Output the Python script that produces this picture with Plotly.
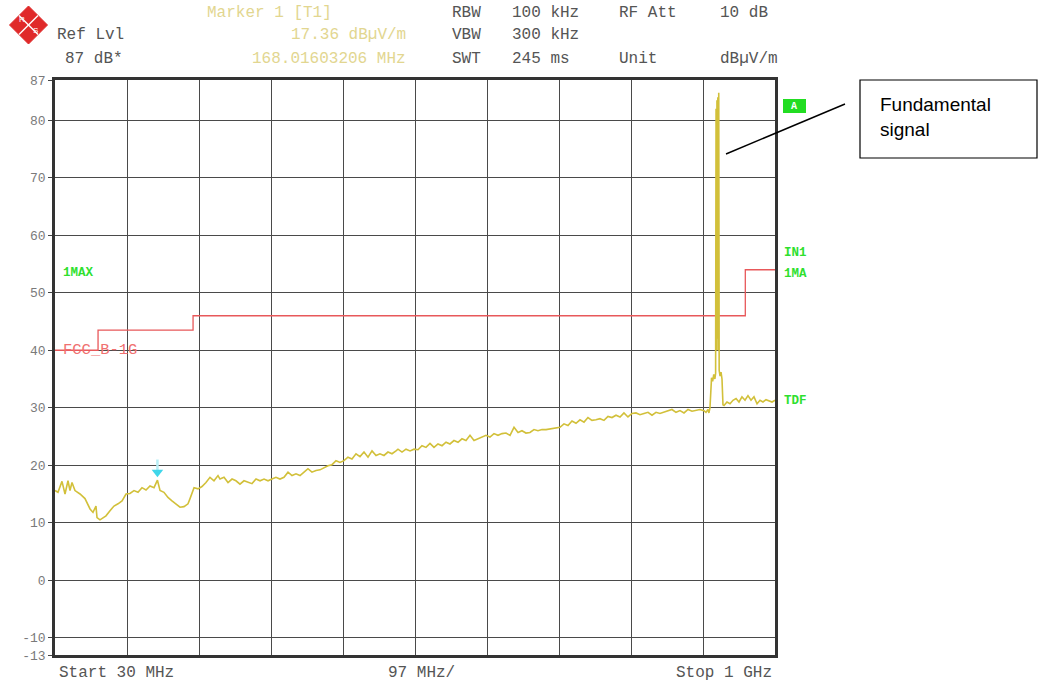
import plotly.graph_objects as go

# ---------------- data ----------------
# measured trace, (frequency MHz, level dBuV/m)
trace_low = [(30.0, 15.6), (34.0, 15.3), (39.4, 17.2), (43.5, 15.0), (47.5, 17.3), (50.2, 15.6),
             (52.9, 17.0), (56.9, 15.6), (63.7, 15.0), (70.4, 14.2), (77.2, 12.4), (81.2, 11.8),
             (85.2, 12.9), (86.6, 10.9), (90.6, 10.5), (94.7, 10.9), (98.7, 11.2), (104.1, 12.1),
             (109.5, 12.9), (114.9, 13.3), (120.3, 13.8), (125.7, 15.0), (131.0, 15.1), (136.4, 15.6),
             (141.8, 15.3), (147.2, 16.1), (152.6, 15.7), (158.0, 16.4), (163.4, 16.1), (168.0, 17.4),
             (171.5, 15.6), (176.8, 15.3), (182.2, 14.4), (187.6, 13.8), (193.0, 13.3), (198.4, 12.7),
             (203.8, 12.8), (209.2, 13.3), (211.9, 14.2), (214.6, 15.0), (217.3, 16.1), (222.7, 15.9),
             (228.0, 16.3), (233.4, 17.0), (238.8, 17.9), (244.2, 17.3), (249.6, 18.2)]
trace_mid = [(252.3, 17.6), (257.7, 17.9), (263.1, 17.0), (268.5, 17.6), (273.8, 17.3), (279.2, 16.7),
             (284.6, 17.3), (290.0, 17.0), (295.4, 16.8), (300.8, 17.6), (306.2, 17.3), (311.6, 17.6),
             (317.0, 17.3), (322.3, 17.6), (327.7, 17.9), (333.1, 17.6), (338.5, 17.9), (343.9, 18.8),
             (349.3, 18.2), (354.7, 18.5), (360.1, 18.2), (365.5, 18.8), (370.8, 19.4), (376.2, 18.8),
             (381.6, 19.1), (387.0, 19.2), (392.4, 19.6), (397.8, 19.9), (403.2, 20.1), (408.6, 20.8),
             (414.0, 20.5), (419.3, 20.8), (424.7, 21.4), (430.1, 21.1), (435.5, 22.0), (440.9, 21.5),
             (446.3, 22.3), (451.7, 21.4), (457.1, 22.5), (462.5, 21.7), (467.8, 22.0), (473.2, 21.7),
             (478.6, 22.3), (484.0, 22.0), (489.4, 22.5), (492.1, 22.8)]
trace_high = [(497.5, 22.3), (502.9, 22.8), (508.3, 22.5), (513.7, 22.8), (519.0, 22.7), (524.4, 23.4),
              (529.8, 23.1), (535.2, 23.8), (540.6, 23.1), (546.0, 23.7), (551.4, 23.4), (556.8, 24.0),
              (562.1, 23.7), (567.5, 24.3), (572.9, 24.0), (578.3, 24.6), (583.7, 24.3), (589.1, 25.2),
              (594.5, 24.3), (599.9, 24.6), (605.3, 24.9), (610.6, 25.2), (616.0, 24.9), (621.4, 25.5),
              (626.8, 25.2), (632.2, 25.5), (637.6, 25.6), (643.0, 25.2), (648.4, 26.6), (653.8, 25.7),
              (659.1, 26.0), (664.5, 25.6), (669.9, 25.7), (675.3, 26.2), (680.7, 26.0), (686.1, 26.2),
              (691.5, 26.2), (696.9, 26.3), (702.3, 26.5), (707.6, 26.6)]
trace_upper = [(710.3, 26.6), (715.7, 27.2), (721.1, 26.9), (726.5, 27.7), (731.9, 27.3), (737.3, 27.9),
               (742.7, 27.5), (748.0, 28.3), (753.4, 27.8), (758.8, 27.9), (764.2, 28.1), (769.6, 27.8),
               (775.0, 28.5), (780.4, 28.3), (785.8, 28.7), (791.2, 28.4), (796.5, 29.1), (801.9, 28.4),
               (807.3, 29.0), (812.7, 29.1), (818.1, 28.8), (823.5, 29.0), (828.9, 29.2), (834.3, 28.7),
               (839.7, 29.2), (845.0, 29.0), (850.4, 29.2), (855.8, 29.4), (861.2, 29.7), (866.6, 29.2),
               (872.0, 29.5), (877.4, 29.1), (882.8, 29.7), (888.2, 29.4), (893.5, 29.5), (898.9, 29.7),
               (904.3, 29.5), (907.0, 29.2), (909.7, 29.7)]
trace_carrier = [(911.0, 29.1), (912.4, 30.0), (913.5, 33.5), (914.5, 35.2), (916.0, 34.6), (917.5, 35.8),
                 (919.0, 35.0), (920.0, 36.0), (920.6, 82.0), (921.2, 40.0), (921.8, 83.5), (922.4, 42.0),
                 (923.0, 84.0), (923.6, 40.0), (924.2, 84.8), (924.8, 36.5), (926.0, 35.5), (927.3, 36.2),
                 (928.6, 35.0), (929.3, 31.0), (929.9, 30.5)]
trace_top = [(931.3, 30.4), (935.3, 31.0), (939.4, 30.7), (943.4, 31.3), (947.5, 31.6), (951.5, 31.0),
             (955.5, 31.9), (959.6, 31.3), (963.6, 32.1), (967.7, 31.3), (971.7, 31.9), (975.8, 30.7),
             (979.8, 31.3), (983.8, 31.0), (987.9, 31.4), (991.9, 31.2), (996.0, 31.0), (1000.0, 31.3)]

# FCC class B limit line
limit_freq_mhz = [30, 88, 216, 960, 1000]
limit_level = [40, 43.5, 46, 54, 54]

# marker 1
marker_freq_mhz = 168.016
marker_level = 18.8

y_tick_vals = [87, 80, 70, 60, 50, 40, 30, 20, 10, 0, -10, -13]
y_tick_text = ["87", "80", "70", "60", "50", "40", "30", "20", "10", "0", "-10", "-13"]
x_grid_mhz = [30, 127, 224, 321, 418, 515, 612, 709, 806, 903, 1000]

# ---------------- figure ----------------
MONO = "Liberation Mono"
SANS = "Liberation Sans"
W, H = 1039, 685
PL, PT, PR, PB = 55, 80, 775, 655


def px(x):
    return (x - PL) / (PR - PL)


def py(y):
    return (PB - y) / (PB - PT)


trace_all = trace_low + trace_mid + trace_high + trace_upper + trace_carrier + trace_top
freqs = [p[0] for p in trace_all]
levels = [p[1] for p in trace_all]

fig = go.Figure()
fig.add_trace(go.Scatter(x=limit_freq_mhz, y=limit_level, mode="lines",
                         line=dict(color="#e8585a", width=1.3, shape="hv"), hoverinfo="skip"))
fig.add_trace(go.Scatter(x=freqs, y=levels, mode="lines",
                         line=dict(color="#d2c03a", width=1.6), hoverinfo="skip"))
fig.add_trace(go.Scatter(x=[marker_freq_mhz, marker_freq_mhz], y=[marker_level + 0.3, marker_level + 2.2],
                         mode="lines", line=dict(color="#b8eef5", width=2.5), hoverinfo="skip"))
fig.add_trace(go.Scatter(x=[marker_freq_mhz], y=[marker_level], mode="markers",
                         marker=dict(symbol="triangle-down", size=10, color="#3fd6ea"), hoverinfo="skip"))

annotations = []


def ann(text, x, y, color, size, anchor="left", family=MONO):
    annotations.append(dict(text=text, x=px(x), y=py(y), xref="paper", yref="paper",
                            xanchor=anchor, yanchor="middle", showarrow=False,
                            font=dict(family=family, size=size, color=color)))


HDR = "#555555"
HS = 16
ann("Marker 1 [T1]", 205, 13, "#e2d690", HS)
ann("Ref Lvl", 55, 35, HDR, HS)
ann("17.36 dBµV/m", 408, 35, "#e2d690", HS, "right")
ann("87 dB*", 63, 59, HDR, HS)
ann("168.01603206 MHz", 408, 59, "#e2d690", HS, "right")
ann("RBW", 450, 13, HDR, HS)
ann("100 kHz", 510, 13, HDR, HS)
ann("RF Att", 617, 13, HDR, HS)
ann("10 dB", 718, 13, HDR, HS)
ann("VBW", 450, 35, HDR, HS)
ann("300 kHz", 510, 35, HDR, HS)
ann("SWT", 450, 59, HDR, HS)
ann("245 ms", 510, 59, HDR, HS)
ann("Unit", 617, 59, HDR, HS)
ann("dBµV/m", 718, 59, HDR, HS)

ann("Start 30 MHz", 57, 673, HDR, HS)
ann("97 MHz/", 421, 673, HDR, HS, "center")
ann("Stop 1 GHz", 774, 673, HDR, HS, "right")

GREEN = "#2ee02e"
ann("<b>1MAX</b>", 61, 273, GREEN, 12.5)
ann("<b>IN1</b>", 782, 253, GREEN, 12.5)
ann("<b>1MA</b>", 782, 274, GREEN, 12.5)
ann("<b>TDF</b>", 782, 401, GREEN, 12.5)
ann("<b>A</b>", 794, 106, "white", 10, "center")
ann("FCC_B-1G", 61, 350, "#f07070", 15.5)

ann("Fundamental", 878, 104, "black", 19, "left", SANS)
ann("signal", 878, 129, "black", 19, "left", SANS)

shapes = []
# green "A" badge
shapes.append(dict(type="rect", xref="paper", yref="paper", x0=px(783), x1=px(806), y0=py(99), y1=py(113),
                   fillcolor="#22dd22", line=dict(width=0), layer="below"))
# call-out box and leader line
shapes.append(dict(type="rect", xref="paper", yref="paper", x0=px(860), x1=px(1037), y0=py(80), y1=py(158),
                   line=dict(color="black", width=1.2), fillcolor="rgba(0,0,0,0)"))
shapes.append(dict(type="line", xref="paper", yref="paper", x0=px(845), y0=py(104), x1=px(726), y1=py(154),
                   line=dict(color="black", width=1.4)))
# R&S style logo
cx, cy, r = 28.5, 25, 19
diamond = "M {},{} L {},{} L {},{} L {},{} Z".format(px(cx), py(cy - r), px(cx + r), py(cy),
                                                    px(cx), py(cy + r), px(cx - r), py(cy))
shapes.append(dict(type="path", xref="paper", yref="paper", path=diamond, fillcolor="#e02a2a",
                   line=dict(color="#e02a2a", width=1)))
shapes.append(dict(type="line", xref="paper", yref="paper", x0=px(cx - r / 2), y0=py(cy - r / 2),
                   x1=px(cx + r / 2), y1=py(cy + r / 2), line=dict(color="white", width=1.5)))
shapes.append(dict(type="line", xref="paper", yref="paper", x0=px(cx + r / 2), y0=py(cy - r / 2),
                   x1=px(cx - r / 2), y1=py(cy + r / 2), line=dict(color="white", width=1.5)))
ann("R", cx - 7, cy - 5, "white", 8, "center", SANS)
ann("S", cx + 7, cy + 6, "white", 8, "center", SANS)

fig.update_layout(
    width=W, height=H,
    margin=dict(l=PL, r=W - PR, t=PT, b=H - PB, pad=0),
    paper_bgcolor="white", plot_bgcolor="white",
    showlegend=False,
    annotations=annotations,
    shapes=shapes,
    xaxis=dict(range=[30, 1000], tickvals=x_grid_mhz, showticklabels=False, ticks="",
               showgrid=True, gridcolor="#4a4a4a", gridwidth=1, zeroline=False,
               showline=True, mirror=True, linecolor="#333333", linewidth=2.5, fixedrange=True),
    yaxis=dict(range=[-13, 87], tickvals=y_tick_vals, ticktext=y_tick_text,
               tickfont=dict(family=MONO, size=13, color="#7a7a7a"),
               ticks="outside", ticklen=4, tickcolor="#444444",
               showgrid=True, gridcolor="#4a4a4a", gridwidth=1, zeroline=False,
               showline=True, mirror=True, linecolor="#333333", linewidth=2.5, fixedrange=True),
)

fig.write_html("out.html", config={"displayModeBar": False},
               post_script="document.body.style.margin='0';document.body.style.overflow='hidden';")
